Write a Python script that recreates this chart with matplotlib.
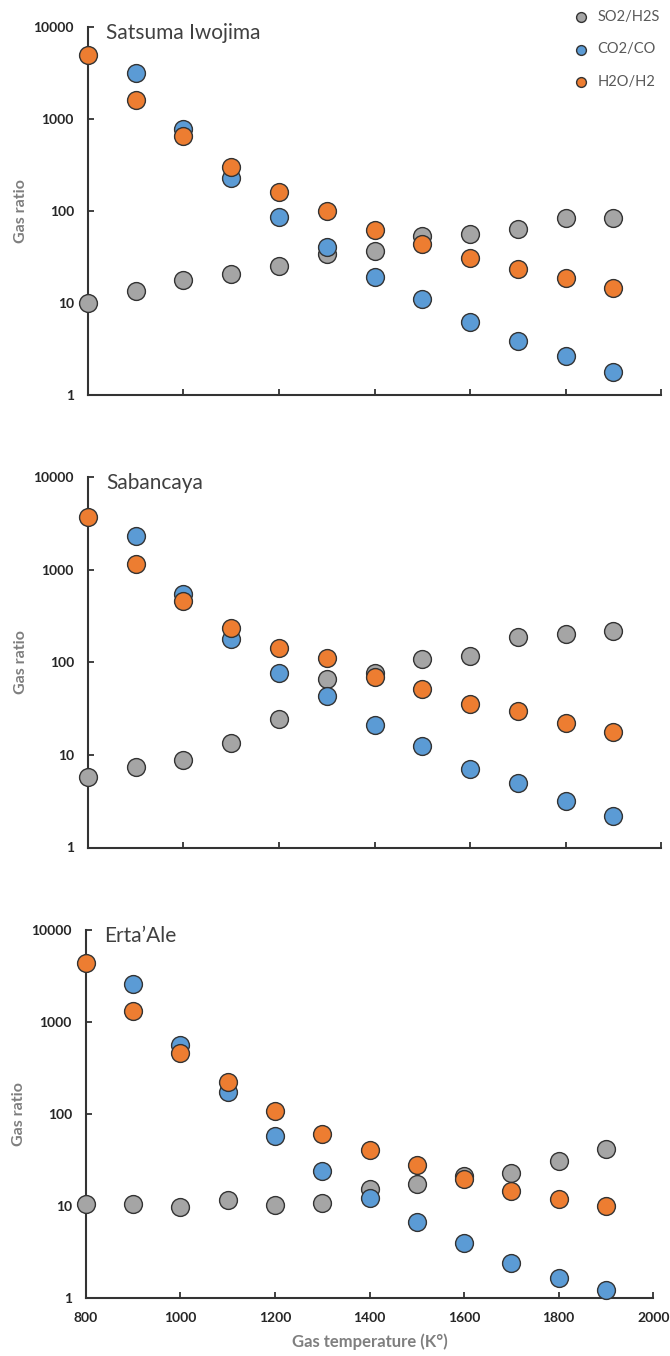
#!/usr/bin/env python3
"""
Gas ratio vs gas temperature for three volcanoes (log scale).
"""

import matplotlib
matplotlib.use('Agg')
import matplotlib.pyplot as plt

plt.rcParams['font.family'] = ['Lato', 'DejaVu Sans']

# Temperatures (K)
TEMPS = [800, 900, 1000, 1100, 1200, 1300, 1400, 1500, 1600, 1700, 1800, 1900]
TEMPS_CO = TEMPS[1:]  # CO2/CO starts at 900 K

# Satsuma Iwojima
satsuma_so2_h2s = [10, 13.5, 17.5, 20.6, 25, 33.5, 37, 53, 56, 63, 83, 83]
satsuma_co2_co = [3200, 780, 230, 86, 40, 19, 11, 6.2, 3.8, 2.66, 1.75]
satsuma_h2o_h2 = [5000, 1600, 650, 300, 161, 100, 62, 44, 31, 23, 18.8, 14.3]

# Sabancaya
sabancaya_so2_h2s = [5.8, 7.35, 8.9, 13.4, 24.5, 66, 76, 110, 116, 187, 201, 220]
sabancaya_co2_co = [2335, 554, 177, 77, 43.5, 21, 12.5, 7.05, 4.93, 3.18, 2.17]
sabancaya_h2o_h2 = [3690, 1160, 458, 233, 144, 111, 69, 51, 35.7, 29.7, 22.2, 17.5]

# Erta'Ale
ertaale_so2_h2s = [10.4, 10.4, 9.75, 11.6, 10.3, 10.7, 15.1, 17.2, 20.9, 22.7, 30.7, 41.2]
ertaale_co2_co = [2620, 566, 172, 57.5, 23.7, 12.3, 6.6, 3.92, 2.37, 1.65, 1.21]
ertaale_h2o_h2 = [4440, 1307, 463, 223, 107, 60.5, 40.5, 27.5, 19.5, 14.5, 11.8, 9.84]

VOLCANOES = ['Satsuma Iwojima', 'Sabancaya', 'Erta\u2019Ale']
SERIES_LABELS = ['SO2/H2S', 'CO2/CO', 'H2O/H2']
Y_TICKS = [1, 10, 100, 1000, 10000]
X_TICKS = [800, 1000, 1200, 1400, 1600, 1800, 2000]

COLORS = ['#a5a5a5', '#5b9bd5', '#ed7d31']
AXIS_GREY = '#7f7f7f'
DARK = '#333333'


def draw_panel(ax, name, so2, co2, h2o, show_xlabels):
    """Draw one volcano panel"""
    series = [(TEMPS, so2), (TEMPS_CO, co2), (TEMPS, h2o)]
    for (xs, ys), color, label in zip(series, COLORS, SERIES_LABELS):
        ax.scatter(xs, ys, s=165, color=color, edgecolor=DARK,
                   linewidth=1.0, label=label, clip_on=False, zorder=3)

    ax.set_yscale('log')
    ax.set_ylim(1, 10000)
    ax.set_xlim(800, 2000)
    ax.set_yticks(Y_TICKS)
    ax.set_yticklabels([str(v) for v in Y_TICKS])
    ax.yaxis.set_minor_locator(matplotlib.ticker.NullLocator())
    ax.set_xticks(X_TICKS)
    if show_xlabels:
        ax.set_xticklabels([str(v) for v in X_TICKS])
        ax.set_xlabel('Gas temperature (K\u00b0)', fontsize=12,
                      color=AXIS_GREY, fontweight='bold', labelpad=7)
    else:
        ax.set_xticklabels([])

    ax.set_ylabel('Gas ratio', fontsize=11.5, color=AXIS_GREY,
                  fontweight='bold', labelpad=4)
    ax.tick_params(axis='both', direction='in', length=4, width=1.3,
                   color=DARK, labelsize=10, pad=10, labelcolor='#262626')
    for lbl in ax.get_xticklabels() + ax.get_yticklabels():
        lbl.set_fontweight('bold')

    for side in ['top', 'right']:
        ax.spines[side].set_visible(False)
    for side in ['left', 'bottom']:
        ax.spines[side].set_linewidth(1.5)
        ax.spines[side].set_color(DARK)

    ax.text(0.032, 0.984, name, transform=ax.transAxes, fontsize=15,
            va='center', ha='left', color='#404040')


def main():
    fig = plt.figure(figsize=(6.7, 13.56), dpi=100)

    boxes = [
        [0.131, 0.709, 0.856, 0.271],
        [0.131, 0.375, 0.856, 0.273],
        [0.128, 0.043, 0.847, 0.271],
    ]
    data = [
        (satsuma_so2_h2s, satsuma_co2_co, satsuma_h2o_h2),
        (sabancaya_so2_h2s, sabancaya_co2_co, sabancaya_h2o_h2),
        (ertaale_so2_h2s, ertaale_co2_co, ertaale_h2o_h2),
    ]

    axes = []
    for i, (box, name, (so2, co2, h2o)) in enumerate(zip(boxes, VOLCANOES, data)):
        ax = fig.add_axes(box)
        draw_panel(ax, name, so2, co2, h2o, show_xlabels=(i == 2))
        axes.append(ax)

    handles, labels = axes[0].get_legend_handles_labels()
    leg = fig.legend(handles, labels, loc='upper right',
                     bbox_to_anchor=(1.0, 1.0), frameon=False,
                     markerscale=0.55, labelspacing=1.25, handletextpad=0.1,
                     fontsize=10.5, borderaxespad=0.3)
    for txt in leg.get_texts():
        txt.set_color('#595959')

    fig.savefig('out.png', dpi=100)


if __name__ == '__main__':
    main()
